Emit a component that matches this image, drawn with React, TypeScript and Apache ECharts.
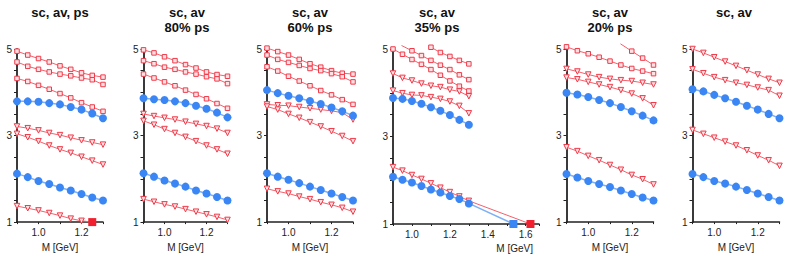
import React, { useEffect, useRef } from "react";
import * as echarts from "echarts";

// ---- data ----
const M = [0.9, 0.95, 1.0, 1.05, 1.1, 1.15, 1.2, 1.25, 1.3];

const titles = [["sc, av, ps"], ["sc, av", "80% ps"], ["sc, av", "60% ps"], ["sc, av", "35% ps"], ["sc, av", "20% ps"], ["sc, av"]];
const xMaxes = [1.3, 1.3, 1.3, 1.67, 1.3, 1.3];
const xAxisName = "M [GeV]";
const yLabelValues = [1, 3, 5];
const xLabelValues = [1.0, 1.2, 1.4, 1.6];

type V = (number | null)[];

// panel 1
const p1Squares: V[] = [
  [4.95, 4.86, 4.78, 4.7, 4.61, 4.53, 4.45, 4.39, 4.35],
  [4.7, 4.6, 4.53, 4.47, 4.42, 4.38, 4.33, 4.29, 4.18],
  [4.32, 4.25, 4.16, 4.07, 3.97, 3.87, 3.76, 3.66, 3.56],
];
const p1Triangles: V[] = [
  [3.21, 3.17, 3.12, 3.06, 3.01, 2.95, 2.89, 2.84, 2.79],
  [3.04, 2.96, 2.87, 2.77, 2.68, 2.6, 2.51, 2.42, 2.33],
  [1.37, 1.32, 1.27, 1.21, 1.15, 1.08, 1.03, null, null],
];
const p1Blues: V[] = [
  [3.79, 3.79, 3.78, 3.75, 3.72, 3.66, 3.6, 3.51, 3.4],
  [2.12, 2.04, 1.95, 1.88, 1.8, 1.73, 1.65, 1.57, 1.5],
];
const p1TriangleEnd = [1.25, 1.0]; // filled red square ending the lowest triangle curve

// panel 2
const p2Squares: V[] = [
  [4.98, 4.91, 4.82, 4.73, 4.64, 4.56, 4.47, 4.41, 4.37],
  [4.73, 4.66, 4.58, 4.53, 4.47, 4.42, 4.36, 4.31, 4.2],
  [4.42, 4.33, 4.24, 4.15, 4.05, 3.95, 3.85, 3.74, 3.63],
];
const p2Triangles: V[] = [
  [3.5, 3.45, 3.41, 3.37, 3.32, 3.27, 3.22, 3.16, 3.06],
  [3.34, 3.25, 3.15, 3.06, 2.97, 2.87, 2.77, 2.68, 2.58],
  [1.53, 1.47, 1.41, 1.36, 1.3, 1.24, 1.18, 1.12, 1.05],
];
const p2Blues: V[] = [
  [3.86, 3.84, 3.82, 3.79, 3.75, 3.69, 3.62, 3.53, 3.42],
  [2.13, 2.05, 1.96, 1.89, 1.82, 1.73, 1.66, 1.58, 1.5],
];

// panel 3
const p3Squares: V[] = [
  [5.02, 4.94, 4.86, 4.76, 4.66, 4.58, 4.5, 4.44, 4.42],
  [4.86, 4.76, 4.69, 4.62, 4.55, 4.5, 4.43, 4.36, 4.24],
  [4.59, 4.49, 4.37, 4.26, 4.15, 4.04, 3.94, 3.83, 3.72],
];
const p3Triangles: V[] = [
  [3.72, 3.7, 3.69, 3.66, 3.63, 3.6, 3.57, 3.53, 3.37],
  [3.67, 3.6, 3.5, 3.41, 3.31, 3.21, 3.1, 2.99, 2.87],
  [1.77, 1.71, 1.66, 1.59, 1.53, 1.46, 1.4, 1.33, 1.24],
];
const p3Blues: V[] = [
  [4.05, 3.98, 3.92, 3.86, 3.8, 3.73, 3.65, 3.56, 3.46],
  [2.13, 2.05, 1.98, 1.9, 1.82, 1.74, 1.66, 1.58, 1.5],
];

// panel 4
const p4Squares: V[] = [
  [null, null, null, null, 5.04, 4.92, 4.83, 4.74, 4.66],
  [null, null, 4.96, 4.85, 4.74, 4.63, 4.53, 4.41, 4.3],
  [5.0, 4.88, 4.76, 4.65, 4.53, 4.4, 4.27, 4.15, 4.04],
];
const p4SquareLeadIn = [0.945, 5.08]; // second square curve enters from above
const p4Triangles: V[] = [
  [4.44, 4.34, 4.28, 4.21, 4.16, 4.13, 4.07, 4.03, 3.92],
  [4.05, 3.99, 3.95, 3.94, 3.9, 3.86, 3.8, 3.7, 3.53],
  [2.3, 2.22, 2.12, 2.03, 1.93, 1.83, 1.73, 1.63, 1.53],
];
const p4Blues: V[] = [
  [3.88, 3.86, 3.81, 3.75, 3.67, 3.59, 3.49, 3.38, 3.27],
  [2.08, 2.01, 1.95, 1.87, 1.79, 1.72, 1.64, 1.57, 1.47],
];
const p4TriangleEnd = [1.625, 1.0];
const p4BlueEnd = [1.535, 1.0];

// panel 5
const p5Squares: V[] = [
  [null, null, null, null, null, null, 4.95, 4.79, 4.63],
  [5.05, 4.96, 4.89, 4.81, 4.72, 4.63, 4.55, 4.49, 4.43],
];
const p5SquareLeadIn = [1.148, 5.12];
const p5Triangles: V[] = [
  [4.54, 4.48, 4.41, 4.35, 4.31, 4.28, 4.26, 4.22, 4.18],
  [4.34, 4.3, 4.24, 4.18, 4.12, 4.05, 3.97, 3.86, 3.7],
  [2.73, 2.64, 2.53, 2.43, 2.32, 2.21, 2.09, 1.99, 1.87],
];
const p5Blues: V[] = [
  [3.99, 3.95, 3.89, 3.82, 3.75, 3.66, 3.56, 3.46, 3.35],
  [2.11, 2.03, 1.95, 1.88, 1.81, 1.73, 1.65, 1.57, 1.5],
];

// panel 6
const p6Triangles: V[] = [
  [5.0, 4.91, 4.81, 4.71, 4.61, 4.51, 4.41, 4.31, 4.22],
  [4.53, 4.44, 4.35, 4.28, 4.22, 4.17, 4.11, 4.05, 3.92],
  [3.13, 3.04, 2.95, 2.86, 2.77, 2.66, 2.54, 2.43, 2.3],
];
const p6Blues: V[] = [
  [4.07, 4.02, 3.94, 3.86, 3.78, 3.69, 3.6, 3.5, 3.4],
  [2.11, 2.04, 1.95, 1.89, 1.82, 1.74, 1.66, 1.58, 1.5],
];

// ---- layout / style (not data) ----
const gridLefts = [17, 143.5, 267, 393, 566.5, 692.5];
const gridWidths = [86, 84, 86, 146, 87, 87];
const titleCenters = [60, 187, 310, 437, 610, 734];
const GRID_TOP = 49;
const GRID_H = 175;

const RED_LINE = "#f5606b";
const RED_EDGE = "#ef3b4a";
const RED_FILL = "#ffe0e3";
const BLUE_LINE = "#7cb0f7";
const BLUE = "#3a86f4";
const FONT = '"Liberation Sans", Arial, Helvetica, sans-serif';

type Extra = { leadIn?: number[]; end?: number[]; endColor?: string };

function buildData(vals: V, extra: Extra = {}) {
  const d: any[] = [];
  if (extra.leadIn) d.push({ value: extra.leadIn, symbol: "none" });
  M.forEach((m, i) => {
    const v = vals[i];
    if (v != null) d.push([m, v]);
  });
  if (extra.end)
    d.push({
      value: extra.end,
      symbol: "rect",
      symbolSize: 8,
      symbolRotate: 0,
      itemStyle: { color: extra.endColor, borderColor: extra.endColor, borderWidth: 0 },
    });
  return d;
}

function redSeries(vals: V, g: number, kind: "sq" | "tri", extra: Extra = {}) {
  return {
    type: "line",
    xAxisIndex: g,
    yAxisIndex: g,
    clip: false,
    data: buildData(vals, { ...extra, endColor: "#f2202f" }),
    symbol: kind === "sq" ? "rect" : "triangle",
    symbolRotate: kind === "sq" ? 0 : 180,
    symbolSize: kind === "sq" ? 4.5 : 5.5,
    showSymbol: true,
    lineStyle: { color: RED_LINE, width: 1 },
    itemStyle: { color: RED_FILL, borderColor: RED_EDGE, borderWidth: 1 },
    z: 2,
  };
}

function blueSeries(vals: V, g: number, extra: Extra = {}) {
  return {
    type: "line",
    xAxisIndex: g,
    yAxisIndex: g,
    clip: false,
    data: buildData(vals, { ...extra, endColor: BLUE }),
    symbol: "circle",
    symbolSize: 8,
    showSymbol: true,
    lineStyle: { color: BLUE_LINE, width: 1.5 },
    itemStyle: { color: BLUE, borderWidth: 0 },
    z: 3,
  };
}

export default function App() {
  const ref = useRef<HTMLDivElement>(null);
  useEffect(() => {
    document.body.style.margin = "0";
    if (!ref.current) return;
    const chart = echarts.init(ref.current, null, { renderer: "svg" });

    const grid = gridLefts.map((l, i) => ({ left: l, top: GRID_TOP, width: gridWidths[i], height: GRID_H }));
    const xAxis = xMaxes.map((mx, i) => ({
      type: "value",
      gridIndex: i,
      min: 0.9,
      max: mx,
      interval: 0.1,
      axisLine: { show: true, onZero: false, lineStyle: { color: "#222", width: 1.5 } },
      axisTick: { show: true, length: 2, lineStyle: { color: "#222" } },
      splitLine: { show: false },
      axisLabel: {
        fontSize: 10,
        color: "#222",
        margin: 5,
        fontFamily: FONT,
        formatter: (v: number) => {
          const hit = xLabelValues.some((t) => Math.abs(t - v) < 1e-6);
          return hit ? v.toFixed(1) : "";
        },
      },
      name: xAxisName,
      nameLocation: i === 3 ? "end" : "middle",
      nameGap: i === 3 ? -6 : 19,
      nameTextStyle:
        i === 3
          ? { fontSize: 10, color: "#222", fontFamily: FONT, align: "right", verticalAlign: "top", padding: [19, 0, 0, 0] }
          : { fontSize: 10, color: "#222", fontFamily: FONT },
    }));
    const yAxis = xMaxes.map((_, i) => ({
      type: "value",
      gridIndex: i,
      min: 1,
      max: 5,
      interval: 0.5,
      axisLine: { show: true, onZero: false, lineStyle: { color: "#3a3a3a", width: 2 } },
      axisTick: { show: true, length: 3, lineStyle: { color: "#222" } },
      splitLine: { show: false },
      axisLabel: {
        fontSize: 10,
        color: "#222",
        margin: 5,
        fontFamily: FONT,
        formatter: (v: number) => (yLabelValues.some((t) => Math.abs(t - v) < 1e-6) ? String(Math.round(v)) : ""),
      },
    }));

    const series: any[] = [
      ...p1Squares.map((v) => redSeries(v, 0, "sq")),
      redSeries(p1Triangles[0], 0, "tri"),
      redSeries(p1Triangles[1], 0, "tri"),
      redSeries(p1Triangles[2], 0, "tri", { end: p1TriangleEnd }),
      ...p1Blues.map((v) => blueSeries(v, 0)),

      ...p2Squares.map((v) => redSeries(v, 1, "sq")),
      ...p2Triangles.map((v) => redSeries(v, 1, "tri")),
      ...p2Blues.map((v) => blueSeries(v, 1)),

      ...p3Squares.map((v) => redSeries(v, 2, "sq")),
      ...p3Triangles.map((v) => redSeries(v, 2, "tri")),
      ...p3Blues.map((v) => blueSeries(v, 2)),

      redSeries(p4Squares[0], 3, "sq"),
      redSeries(p4Squares[1], 3, "sq", { leadIn: p4SquareLeadIn }),
      redSeries(p4Squares[2], 3, "sq"),
      redSeries(p4Triangles[0], 3, "tri"),
      redSeries(p4Triangles[1], 3, "tri"),
      redSeries(p4Triangles[2], 3, "tri", { end: p4TriangleEnd }),
      blueSeries(p4Blues[0], 3),
      blueSeries(p4Blues[1], 3, { end: p4BlueEnd }),

      redSeries(p5Squares[0], 4, "sq", { leadIn: p5SquareLeadIn }),
      redSeries(p5Squares[1], 4, "sq"),
      ...p5Triangles.map((v) => redSeries(v, 4, "tri")),
      ...p5Blues.map((v) => blueSeries(v, 4)),

      ...p6Triangles.map((v) => redSeries(v, 5, "tri")),
      ...p6Blues.map((v) => blueSeries(v, 5)),
    ];

    const graphic: any[] = [];
    titles.forEach((lines, i) => {
      lines.forEach((t, j) => {
        graphic.push({
          type: "text",
          x: titleCenters[i],
          y: 12 + j * 15,
          style: {
            text: t,
            font: `bold 13px ${FONT}`,
            fill: "#111",
            align: "center",
            verticalAlign: "middle",
            textAlign: "center",
            textVerticalAlign: "middle",
          },
        });
      });
    });

    chart.setOption({
      animation: false,
      backgroundColor: "#fff",
      grid,
      xAxis,
      yAxis,
      series,
      graphic,
    });
    return () => chart.dispose();
  }, []);
  return <div ref={ref} style={{ width: 789, height: 257 }} />;
}
